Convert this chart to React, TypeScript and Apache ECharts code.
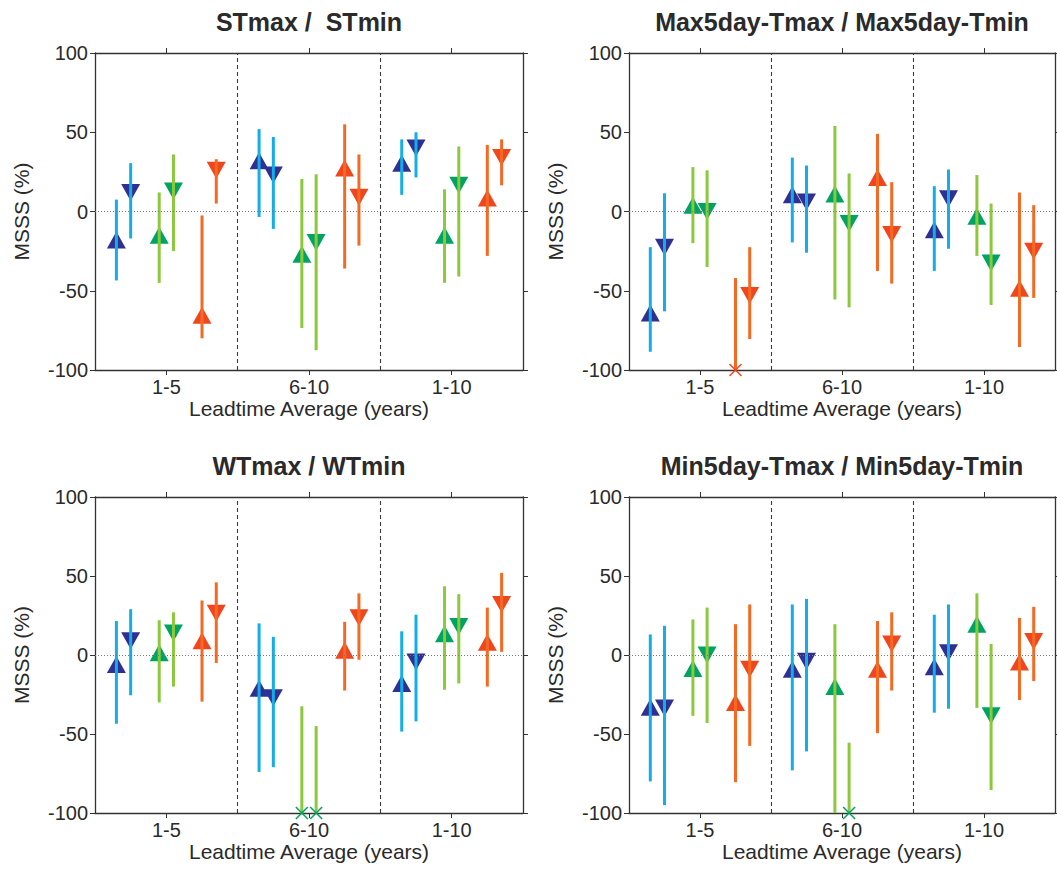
import React, { useEffect, useRef } from "react";
import * as echarts from "echarts";

// ---------- data ----------
const leadtimes = ["1-5", "6-10", "1-10"];
const yTicks = [-100, -50, 0, 50, 100];
const panelTitles = [
  "STmax /  STmin",
  "Max5day-Tmax / Max5day-Tmin",
  "WTmax / WTmin",
  "Min5day-Tmax / Min5day-Tmin",
];
// order within each leadtime group:
// [blue Tmax(▲), blue Tmin(▼), green Tmax(▲), green Tmin(▼), orange Tmax(▲), orange Tmin(▼)]
// null = off scale (below -100), drawn as an "x" at -100
const OFF = null;

const stValue = [[-18, 12, -15, 13, -65.5, 26], [32, 23, -27, -19.5, 27.5, 9], [30.5, 40, -15, 16.5, 8.5, 34]];
const stLow = [[-43.5, -17, -45, -25, -80, 5], [-3.5, -11, -73.5, -87.5, -36, -21.5], [10.5, 21.5, -45, -41, -28, 16.5]];
const stHigh = [[7.5, 30.5, 12, 36, -2.5, 33], [52, 47, 20.5, 23.5, 55, 36], [45.5, 50, 14, 41, 42, 45.5]];

const max5Value = [[-64, -22.5, 4, 0, OFF, -53], [10.5, 6, 11, -7.5, 21.5, -14.5], [-11.5, 8, -3, -32.5, -48.5, -25]];
const max5Low = [[-88.5, -63, -20, -35, -100, -80.5], [-19.5, -26, -55.5, -60.5, -37.5, -45.5], [-37.5, -23.5, -28, -59, -85.5, -54.5]];
const max5High = [[-22.5, 11.5, 28, 26, -42, -22.5], [34, 29, 54, 24, 49, 18.5], [16, 26.5, 23, 5, 12, 4]];

const wtValue = [[-6, 9, 1.5, 14, 9, 26.5], [-21, -27, OFF, OFF, 3, 23.5], [-18, -4.5, 13.5, 18, 8, 32]];
const wtLow = [[-43.5, -25.5, -30, -20, -29.5, -5], [-74, -71, -100, -100, -22.5, -3], [-48.5, -42, -22, -18, -20, 2]];
const wtHigh = [[21.5, 29, 22, 27, 34.5, 46], [20, 11.5, -32.5, -45, 21, 39], [15, 25.5, 43.5, 38.5, 30, 52]];

const min5Value = [[-33, -33.5, -8.5, 0, -30, -9], [-9, -4, -20, OFF, -9, 7], [-7.5, 1.5, 19.5, -38.5, -4.5, 8.5]];
const min5Low = [[-80, -95, -38.5, -43, -80.5, -57.5], [-73, -61, -100, -100, -49.5, -22.5], [-36.5, -34, -33.5, -85.5, -28.5, -16.5]];
const min5High = [[13, 18.5, 22.5, 30, 19.5, 32], [32, 35.5, 19.5, -55.5, 21.5, 27], [25.5, 32, 39, 7, 23.5, 30.5]];

const panelValues = [stValue, max5Value, wtValue, min5Value];
const panelLows = [stLow, max5Low, wtLow, min5Low];
const panelHighs = [stHigh, max5High, wtHigh, min5High];

const seriesNames = ["blue Tmax", "blue Tmin", "green Tmax", "green Tmin", "orange Tmax", "orange Tmin"];
const seriesOffsets = [-0.35, -0.25, -0.05, 0.05, 0.25, 0.35];

// ---------- styles ----------
const markerColors = ["#2e3192", "#00a460", "#f0461e"];
const barColors = ["#12aee8", "#8cc83c", "#f46a24"];
const FONT = "'Liberation Sans', Arial, Helvetica, sans-serif";
const TEXT = "#2a2a2a";
const AXIS = "#333333";

const grids = [
  { left: 95, top: 53, width: 428, height: 317 },
  { left: 629, top: 53, width: 426, height: 317 },
  { left: 95, top: 497, width: 428, height: 316 },
  { left: 629, top: 497, width: 426, height: 316 },
];

function buildOption() {
  const xAxes: any[] = [];
  const yAxes: any[] = [];
  const series: any[] = [];
  const graphics: any[] = [];

  grids.forEach((g, p) => {
    const tickStyle = { color: AXIS, width: 1 };
    const lineStyle = { color: AXIS, width: 1.3 };
    xAxes.push({
      gridIndex: p,
      type: "value",
      position: "bottom",
      min: 0.5,
      max: 3.5,
      axisLine: { show: true, onZero: false, lineStyle },
      axisTick: { show: true, customValues: [1, 2, 3], length: 5, lineStyle: tickStyle },
      axisLabel: {
        show: true,
        customValues: [1, 2, 3],
        formatter: (v: number) => leadtimes[Math.round(v) - 1] ?? "",
        fontSize: 20,
        color: TEXT,
        fontFamily: FONT,
        margin: 7,
      },
      splitLine: { show: false },
      name: "Leadtime Average (years)",
      nameLocation: "middle",
      nameGap: 28,
      nameTextStyle: { fontSize: 21, color: TEXT, fontFamily: FONT },
    });
    xAxes.push({
      gridIndex: p,
      type: "value",
      position: "top",
      min: 0.5,
      max: 3.5,
      axisLine: { show: true, onZero: false, lineStyle },
      axisTick: { show: true, customValues: [1, 2, 3], length: 5, lineStyle: tickStyle },
      axisLabel: { show: false },
      splitLine: { show: false },
    });
    yAxes.push({
      gridIndex: p,
      type: "value",
      position: "left",
      min: yTicks[0],
      max: yTicks[yTicks.length - 1],
      interval: 50,
      axisLine: { show: true, onZero: false, lineStyle },
      axisTick: { show: true, length: 5, lineStyle: tickStyle },
      axisLabel: { fontSize: 20, color: TEXT, fontFamily: FONT, margin: 7 },
      splitLine: { show: false },
      name: "MSSS (%)",
      nameLocation: "middle",
      nameGap: 63,
      nameRotate: 90,
      nameTextStyle: { fontSize: 21, color: TEXT, fontFamily: FONT },
    });
    yAxes.push({
      gridIndex: p,
      type: "value",
      position: "right",
      min: yTicks[0],
      max: yTicks[yTicks.length - 1],
      interval: 50,
      axisLine: { show: true, onZero: false, lineStyle },
      axisTick: { show: true, length: 5, lineStyle: tickStyle },
      axisLabel: { show: false },
      splitLine: { show: false },
    });

    const vals = panelValues[p];
    const lows = panelLows[p];
    const highs = panelHighs[p];

    // triangles
    seriesNames.forEach((name, s) => {
      const data = leadtimes.map((_, gi) => {
        const v = vals[gi][s];
        return [gi + 1 + seriesOffsets[s], v === null ? "-" : v];
      });
      const ser: any = {
        name,
        type: "scatter",
        xAxisIndex: 2 * p,
        yAxisIndex: 2 * p,
        data,
        symbol: "triangle",
        symbolSize: [19, 17],
        symbolRotate: s % 2 === 1 ? 180 : 0,
        itemStyle: { color: markerColors[Math.floor(s / 2)], opacity: 1 },
        z: 2,
        silent: true,
      };
      if (s === 0) {
        ser.markLine = {
          silent: true,
          symbol: ["none", "none"],
          label: { show: false },
          data: [
            { xAxis: 1.5, lineStyle: { color: "#3a3a3a", type: [4, 3], width: 1.1 } },
            { xAxis: 2.5, lineStyle: { color: "#3a3a3a", type: [4, 3], width: 1.1 } },
            { yAxis: 0, lineStyle: { color: "#777", type: [1, 2], width: 1 } },
          ],
        };
      }
      series.push(ser);
    });

    // error bars + off-scale crosses
    const barData: any[] = [];
    leadtimes.forEach((_, gi) => {
      seriesNames.forEach((__, s) => {
        barData.push([gi + 1 + seriesOffsets[s], lows[gi][s], highs[gi][s], s, vals[gi][s] === null ? 1 : 0]);
      });
    });
    series.push({
      name: "ranges " + (p + 1),
      type: "custom",
      xAxisIndex: 2 * p,
      yAxisIndex: 2 * p,
      data: barData,
      z: 3,
      silent: true,
      clip: false,
      renderItem: (params: any, api: any) => {
        const x = api.value(0);
        const lo = api.value(1);
        const hi = api.value(2);
        const s = api.value(3);
        const off = api.value(4);
        const a = api.coord([x, hi]);
        const b = api.coord([x, lo]);
        const fam = Math.floor(s / 2);
        const children: any[] = [
          {
            type: "line",
            shape: { x1: a[0], y1: a[1], x2: b[0], y2: b[1] },
            style: { stroke: barColors[fam], lineWidth: 3 },
          },
        ];
        if (off) {
          const c = api.coord([x, yTicks[0]]);
          const d = 6;
          const st = { stroke: markerColors[fam], lineWidth: 1.5 };
          children.push({ type: "line", shape: { x1: c[0] - d, y1: c[1] - d, x2: c[0] + d, y2: c[1] + d }, style: st });
          children.push({ type: "line", shape: { x1: c[0] - d, y1: c[1] + d, x2: c[0] + d, y2: c[1] - d }, style: st });
        }
        return { type: "group", children };
      },
    });

    graphics.push({
      type: "text",
      x: g.left + g.width / 2,
      y: g.top - 31,
      style: {
        text: panelTitles[p],
        fill: TEXT,
        font: `bold 25px ${FONT}`,
        textAlign: "center",
        textVerticalAlign: "middle",
      },
    });
  });

  return {
    animation: false,
    backgroundColor: "#ffffff",
    grid: grids.map((g) => ({ ...g, containLabel: false })),
    xAxis: xAxes,
    yAxis: yAxes,
    series,
    graphic: graphics,
  };
}

export default function App() {
  const ref = useRef<HTMLDivElement>(null);
  useEffect(() => {
    if (!ref.current) return;
    const chart = echarts.init(ref.current, undefined, { renderer: "svg" });
    chart.setOption(buildOption() as any);
    return () => chart.dispose();
  }, []);
  return (
    <div
      ref={ref}
      style={{ position: "fixed", left: 0, top: 0, width: 1057, height: 869, background: "#fff" }}
    />
  );
}
